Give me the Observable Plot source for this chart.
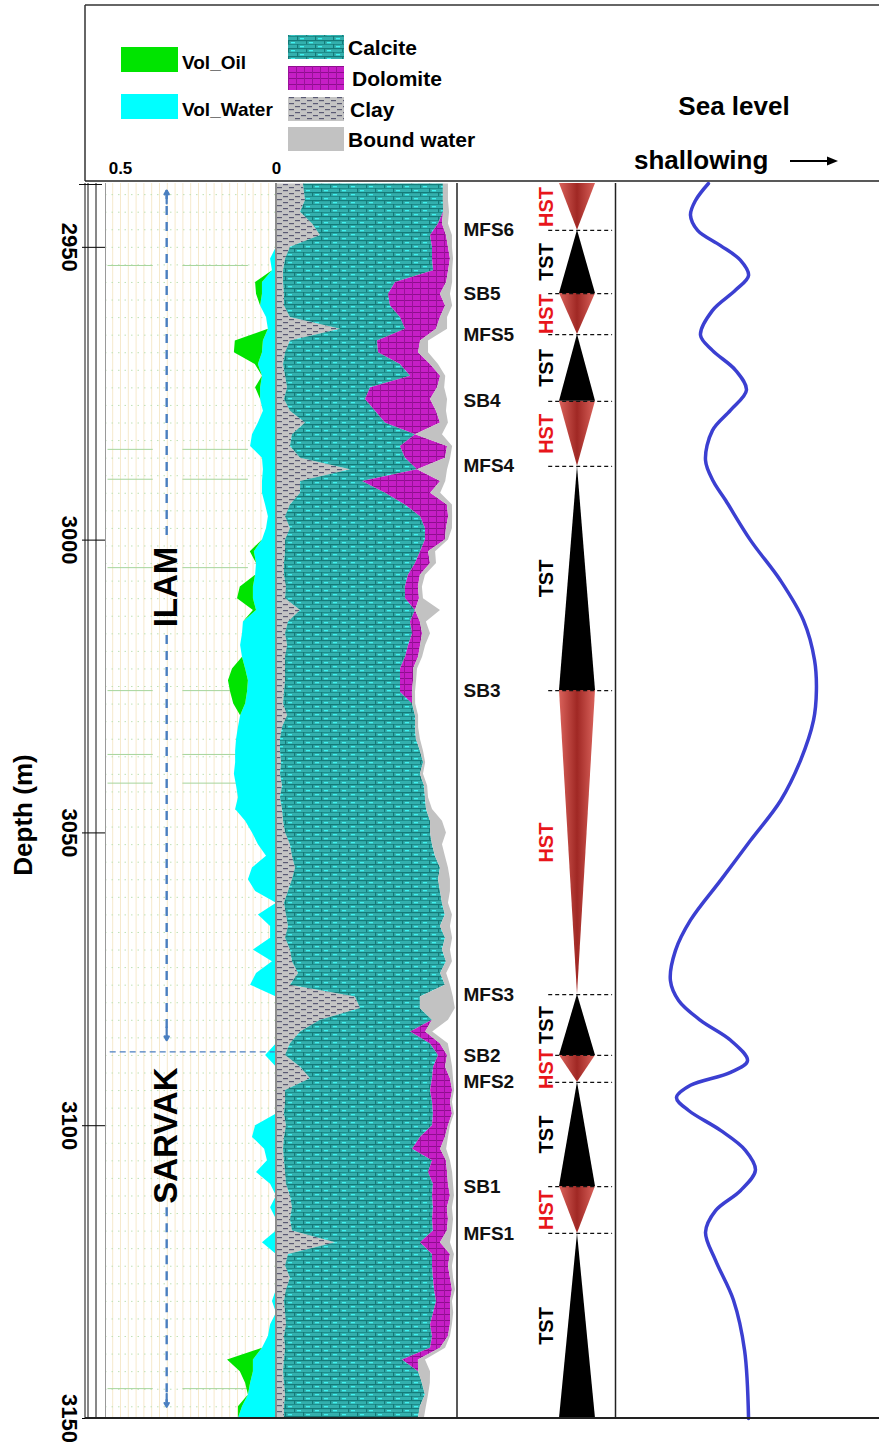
<!DOCTYPE html>
<html><head><meta charset="utf-8">
<script src="https://cdn.jsdelivr.net/npm/d3@7"></script>
<script src="https://cdn.jsdelivr.net/npm/@observablehq/plot@0.6"></script>
<style>
html,body{margin:0;padding:0;background:#fff;overflow:hidden}
#page{position:relative;width:879px;height:1447px;font-family:"Liberation Sans",Arial,sans-serif}
</style></head>
<body>
<svg width="0" height="0" style="position:absolute">
<defs>
<pattern id="calcitePat" patternUnits="userSpaceOnUse" width="18" height="8">
 <rect width="18" height="8" fill="#33b0ae"/>
 <rect y="0" width="18" height="1.2" fill="#147a78"/>
 <rect y="4" width="18" height="1" fill="#1d8c8a"/>
 <rect x="0" y="0" width="1.2" height="4" fill="#147a78"/>
 <rect x="9" y="4" width="1.2" height="4" fill="#147a78"/>
 <rect x="3" y="2" width="4" height="1.3" fill="#3ff2f0"/>
 <rect x="12" y="6" width="4" height="1.3" fill="#3ff2f0"/>
</pattern>
<pattern id="dolomitePat" patternUnits="userSpaceOnUse" width="8" height="6">
 <rect width="8" height="6" fill="#c61ec6"/>
 <rect width="8" height="1" fill="#8e0e8e"/>
 <rect width="1" height="6" fill="#9a129a"/>
</pattern>
<pattern id="clayPat" patternUnits="userSpaceOnUse" width="12" height="6">
 <rect width="12" height="6" fill="#c4c4c4"/>
 <rect x="1" y="1" width="5" height="1.2" fill="#5a5a74"/>
 <rect x="7" y="4" width="5" height="1.2" fill="#5a5a74"/>
</pattern>
<linearGradient id="hstGrad" x1="0" x2="1" y1="0" y2="0">
 <stop offset="0" stop-color="#d9625b"/>
 <stop offset="0.5" stop-color="#a02824"/>
 <stop offset="1" stop-color="#d9625b"/>
</linearGradient>
</defs>
</svg>
<div id="page">
<svg id="hdr" width="879" height="1447" style="position:absolute;left:0;top:0"></svg>
<svg id="fg" width="879" height="1447" style="position:absolute;left:0;top:0;pointer-events:none"></svg>
</div>
<script>
// ---------- DATA ----------
const depth = [2939.2,2942,2944,2946,2948,2950,2952,2954,2956,2958,
2960,2962,2964,2966,2968,2970,2972,2974,2976,2978,
2980,2982,2984,2986,2988,2990,2992,2994,2996,2998,
3000,3002,3004,3006,3008,3010,3012,3014,3016,3018,
3020,3022,3024,3026,3028,3030,3032,3034,3036,3038,
3040,3042,3044,3046,3048,3050,3052,3054,3056,3058,
3060,3062,3064,3066,3068,3070,3072,3074,3076,3078,
3080,3082,3084,3086,3088,3090,3092,3094,3096,3098,
3100,3102,3104,3106,3108,3110,3112,3114,3116,3118,
3120,3122,3124,3126,3128,3130,3132,3134,3136,3138,
3140,3142,3144,3146,3148,3150];

const water = [0,0,0,0,0,0,.019,.013,.045,.045,
.051,.032,.026,.042,.045,.058,.045,.051,.051,.042,
.058,.077,.083,.045,.042,.045,.045,.035,.026,.032,
.045,.071,.064,.067,.074,.074,.064,.106,.109,.115,
.109,.099,.090,.093,.099,.115,.122,.128,.131,.131,
.135,.128,.122,.131,.099,.077,.058,.032,.077,.090,
.067,0,.058,.019,.019,.074,.013,.064,.083,0,
0,0,0,0,.035,0,0,0,0,0,
.067,.077,.038,.029,.064,.019,0,.019,0,0,
.045,0,0,0,0,.013,0,.019,.026,.045,
.074,.074,.083,.090,.109,.122];

const oil = [0,0,0,0,0,0,0,0,.022,.019,
0,0,0,.090,.090,.010,0,.016,0,0,
0,0,0,0,0,0,0,0,0,0,
0,.013,0,0,.042,.051,.010,0,0,0,
0,.042,.064,.054,.038,0,0,0,0,0,
0,0,0,0,0,0,0,0,0,0,
0,0,0,0,0,0,0,0,0,0,
0,0,0,0,0,0,0,0,0,0,
0,0,0,0,0,0,0,0,0,0,
0,0,0,0,0,0,0,0,0,0,
.083,.042,.016,0,.013,0];

const clay = [14.9,16.0,13.3,19.9,24.3,7.7,5.0,3.9,3.9,4.4,
4.4,7.7,35.4,7.7,5.0,3.9,5.0,6.1,4.4,7.7,
16.0,8.8,7.7,13.3,40.9,13.3,13.3,7.7,5.0,7.7,
5.0,5.0,4.4,4.4,5.5,5.0,13.3,6.6,5.0,6.1,
5.0,5.0,5.0,4.4,3.9,6.1,3.3,2.2,2.2,2.8,
2.2,3.3,2.2,3.3,3.9,5.0,7.7,8.8,10.5,8.8,
6.6,4.4,5.5,6.6,5.0,7.7,8.8,12.2,7.7,43.6,
46.4,24.3,13.3,7.7,5.0,13.3,18.8,5.0,5.0,4.4,
5.5,4.4,3.9,4.4,5.0,5.5,7.7,8.8,7.7,8.8,
32.6,6.6,5.0,7.7,5.5,4.4,5.0,5.5,4.4,5.0,
4.4,3.9,4.4,5.0,4.4,4.4];

const calcite = [77.3,76.2,79.0,69.6,60.8,78.5,81.2,82.9,61.9,57.5,
58.6,60.8,35.9,48.1,51.4,64.6,69.1,45.9,44.8,47.0,
44.2,68.0,60.8,58.0,37.0,34.3,47.0,63.5,74.6,74.6,
77.3,74.6,72.4,68.5,65.7,66.3,63.5,67.4,70.2,66.9,
66.3,63.5,63.5,64.1,71.3,70.7,73.5,75.1,77.3,78.5,
77.3,78.5,80.1,79.6,81.2,80.1,78.5,79.0,80.1,80.7,
84.0,87.3,87.8,84.0,88.4,84.0,85.1,78.5,85.6,35.9,
33.1,61.9,60.8,77.3,84.5,73.5,67.4,80.1,81.2,82.3,
80.7,75.1,71.3,81.8,79.0,81.2,78.5,77.9,78.5,77.9,
47.0,79.6,81.2,79.0,81.8,84.0,81.8,79.6,81.8,80.1,
65.2,74.6,76.2,77.3,75.1,74.0];

const dolomite = [0,0,0,2.2,8.8,8.8,9.9,8.3,28.2,28.7,
30.4,22.1,17.1,23.8,22.1,16.6,16.6,37.0,35.9,33.7,
30.4,0,26.0,22.1,0,43.1,24.9,23.2,15.5,11.6,
11.0,4.4,8.3,6.6,7.2,7.7,0,5.5,5.5,6.6,
7.2,7.2,7.2,6.6,0,0,0,0,0,0,
0,0,0,0,0,0,0,0,0,0,
0,0,0,0,0,0,0,0,0,0,
0,0,8.3,5.5,5.0,6.6,9.9,12.2,9.9,10.5,
8.8,13.8,15.5,7.7,10.5,8.3,9.9,7.7,8.8,7.7,
11.0,9.9,8.8,9.4,9.9,7.7,9.4,11.0,8.8,5.5,
8.8,0,0,0,0,0];

const boundWater = [2.8,2.8,3.3,3.3,3.3,2.2,1.7,2.2,3.3,5.5,
3.9,3.9,6.1,4.4,5.5,4.4,2.8,3.9,9.4,5.5,
4.4,14.9,2.8,2.8,16.6,2.8,5.5,2.8,2.2,3.3,
1.7,3.9,3.3,2.8,2.2,2.2,13.8,3.3,4.4,2.8,
2.2,2.2,1.7,1.7,1.7,1.7,1.7,2.2,1.7,1.1,
1.7,1.7,1.7,3.3,6.6,8.8,5.5,5.5,4.4,6.6,
5.5,3.3,3.9,5.5,3.9,4.4,3.3,3.3,2.8,18.2,
19.3,8.8,3.9,4.4,1.7,3.9,1.7,1.1,1.1,1.1,
1.1,1.7,3.3,2.2,2.8,2.8,2.2,2.8,2.8,2.8,
5.5,2.2,2.2,1.7,1.7,1.1,1.7,1.1,1.1,2.8,
3.9,6.6,4.4,1.7,3.3,3.3];

const surfaceNames = ["MFS6","SB5","MFS5","SB4","MFS4","SB3","MFS3","SB2","MFS2","SB1","MFS1"];
const surfaceDepths = [2947.1,2957.9,2964.9,2976.3,2987.4,3025.7,3077.6,3088.0,3092.6,3110.4,3118.4];
const tractTypes = ["HST","TST","HST","TST","HST","TST","HST","TST","HST","TST","HST","TST"];

const seaDepth = [2939.1,2942.0,2944.5,2947.1,2949.7,2952.2,2954.8,2957.3,2960.8,2965.0,2967.6,2971.0,2974.4,2977.8,2981.3,2986.4,2990.0,2993.2,3000.0,3006.9,3013.7,3020.5,3025.7,3030.8,3037.6,3044.5,3051.3,3058.1,3064.9,3070.1,3075.2,3078.6,3082.0,3085.4,3088.9,3090.9,3093.1,3095.2,3097.4,3100.8,3104.2,3107.6,3111.1,3114.5,3118.2,3123.0,3129.8,3138.4,3150.0];
const seaLevel = [35.2,30.3,28.4,31.1,39.8,47.3,50.4,45.5,36.7,32.2,36.7,45.5,49.6,43.6,36.7,34.1,37.1,41.7,51.1,62.5,71.2,75.4,76.1,75.0,70.1,62.5,51.1,39.8,28.4,22.7,20.8,23.9,32.2,43.6,50.0,43.6,28.4,23.1,27.7,39.8,49.2,53.0,47.3,37.9,34.1,37.9,44.7,48.9,50.4];

const formationNames = ["ILAM","SARVAK"];
const formationTops = [2939.1,3087.4];
const formationBases = [3087.4,3150];
const formationLabelDepths = [3008,3101.7];

const markerDepths = [2953.1,2984.5,2989.6,3004.7,3025.7,3036.6,3041.5,3144.9];
const depthTicks = [2950,3000,3050,3100,3150];
const fluidTicks = [0.5,0];
const fluidGrid = [0.525,0.5,0.475,0.45,0.425,0.4,0.375,0.35,0.325,0.3,0.275,0.25,0.225,0.2,0.175,0.15,0.125,0.1,0.075,0.05,0.025];

const fluidStack = ["Vol_Water","Vol_Oil"];
const fluidColors = ["#00ffff","#00e400"];
const fluidLegend = ["Vol_Oil","Vol_Water"];
const mineralStack = ["Clay","Calcite","Dolomite","Bound water"];
const mineralFills = ["url(#clayPat)","url(#calcitePat)","url(#dolomitePat)","#c2c2c2"];
const mineralLegend = ["Calcite","Dolomite","Clay","Bound water"];

// ---------- LAYOUT ----------
const H = 1447, TOP = 183, BOT = 1418;
const FONT = "Liberation Sans, Arial, sans-serif";
const yOpt = {domain: [2939.1, 3150], range: [TOP, BOT]};
const page = document.getElementById("page");
const fg = document.getElementById("fg");
function place(svg, left) {
  svg.style.position = "absolute"; svg.style.left = left + "px"; svg.style.top = "0px";
  svg.style.background = "transparent"; svg.style.overflow = "visible"; svg.style.maxWidth = "none";
  page.insertBefore(svg, fg);
}
const st = {fontFamily: FONT, background: "transparent", overflow: "visible"};

// fluids
const fluidLong = depth.flatMap((d, i) => [
  {depth: d, fluid: "Vol_Water", v: water[i]},
  {depth: d, fluid: "Vol_Oil", v: oil[i]}
]);
const formations = formationNames.map((n, i) => ({name: n, top: formationTops[i], base: formationBases[i], label: formationLabelDepths[i], gap: n.length * 2 + 0.3}));
const segs = [], heads = [];
formations.forEach(f => {
  const tipUp = f.top + 1.2, tipDown = f.base - 2.0;
  if (f.label - f.gap - tipUp > 4) { segs.push({y1: tipUp, y2: f.label - f.gap}); heads.push({from: tipUp + 2.2, to: tipUp}); }
  segs.push({y1: f.label + f.gap, y2: tipDown}); heads.push({from: tipDown - 2.2, to: tipDown});
});
const AX = 0.352, BLUE = "#4a7fc1";
const hGrid = d3.range(2941, 3150, 3);

place(Plot.plot({
  width: 276, height: H, marginLeft: 105, marginRight: 0, marginTop: TOP, marginBottom: H - BOT,
  x: {domain: [0.5 + 15/312, 0]},
  y: yOpt,
  color: {domain: fluidStack, range: fluidColors},
  style: st,
  marks: [
    Plot.ruleX(fluidGrid, {stroke: "#f6e9cc", strokeWidth: 1}),
    Plot.ruleY(hGrid, {stroke: "#bfe0b5", strokeDasharray: "1.5,5"}),
    Plot.ruleY(markerDepths, {x1: 0.54, x2: 0.395, stroke: "#a6d59c"}),
    Plot.ruleY(markerDepths, {x1: 0.30, x2: 0.09, stroke: "#a6d59c"}),
    Plot.areaX(fluidLong, Plot.stackX({x: "v", y: "depth", z: "fluid", fill: "fluid"})),
    Plot.ruleY([formationTops[1]], {x1: 0.533, x2: 0.004, stroke: BLUE, strokeWidth: 1.4, strokeDasharray: "6,4"}),
    Plot.ruleX(segs, {x: AX, y1: "y1", y2: "y2", stroke: BLUE, strokeWidth: 2.4, strokeDasharray: "9,7"}),
    Plot.arrow(heads, {x1: AX, x2: AX, y1: "from", y2: "to", stroke: BLUE, strokeWidth: 2.2, headLength: 12}),
    Plot.text(formations, {x: AX, y: "label", text: "name", rotate: -90, fontSize: 33, fontWeight: "bold", fill: "#000"}),
    Plot.axisY({ticks: depthTicks, tickSize: 23, tickPadding: 5, tickRotate: 90, fontSize: 22, fontWeight: "bold", label: null, tickFormat: d => String(d)}),
    Plot.text(["Depth (m)"], {frameAnchor: "left", textAnchor: "middle", dx: -82, dy: 14, rotate: -90, fontSize: 26, fontWeight: "bold"}),
    Plot.axisX({anchor: "top", ticks: fluidTicks, tickSize: 0, tickPadding: 10, fontSize: 17, fontWeight: "bold", label: null, tickFormat: d => String(d)})
  ]
}), 0);

// minerals
const minCols = {Clay: clay, Calcite: calcite, Dolomite: dolomite, "Bound water": boundWater};
const mineralLong = depth.flatMap((d, i) => mineralStack.map(m => ({depth: d, mineral: m, v: minCols[m][i]})));
place(Plot.plot({
  width: 181, height: H, marginLeft: 0, marginRight: 0, marginTop: TOP, marginBottom: H - BOT,
  x: {domain: [0, 100], axis: null},
  y: {...yOpt, axis: null},
  color: {domain: mineralStack, range: mineralFills},
  style: st,
  marks: [
    Plot.areaX(mineralLong, Plot.stackX({x: "v", y: "depth", z: "mineral", fill: "mineral"}))
  ]
}), 276);

// sequence stratigraphy
const bounds = [yOpt.domain[0], ...surfaceDepths, yOpt.domain[1]];
const tracts = tractTypes.map((t, i) => ({type: t, top: bounds[i], base: bounds[i + 1], mid: (bounds[i] + bounds[i + 1]) / 2}));
const triPts = tracts.flatMap((tr, i) => tr.type === "TST"
  ? [{id: i, type: "TST", depth: tr.top, lo: 0, hi: 0}, {id: i, type: "TST", depth: tr.base, lo: -1, hi: 1}]
  : [{id: i, type: "HST", depth: tr.top, lo: -1, hi: 1}, {id: i, type: "HST", depth: tr.base, lo: 0, hi: 0}]);
const surfaces = surfaceNames.map((n, i) => ({name: n, depth: surfaceDepths[i]}));
place(Plot.plot({
  width: 158, height: H, marginLeft: 102, marginRight: 20, marginTop: TOP, marginBottom: H - BOT,
  x: {domain: [-1, 1], axis: null},
  y: {...yOpt, axis: null},
  style: st,
  marks: [
    Plot.areaX(triPts.filter(d => d.type === "HST"), {y: "depth", x1: "lo", x2: "hi", z: "id", fill: "url(#hstGrad)"}),
    Plot.areaX(triPts.filter(d => d.type === "TST"), {y: "depth", x1: "lo", x2: "hi", z: "id", fill: "#000"}),
    Plot.ruleY(surfaceDepths, {x1: -1.6, x2: 1.95, stroke: "#111", strokeWidth: 1.2, strokeDasharray: "4,3"}),
    Plot.text(surfaces, {y: "depth", text: "name", frameAnchor: "left", dx: -96, textAnchor: "start", fontSize: 19, fontWeight: "bold", fill: "#111"}),
    Plot.text(tracts, {y: "mid", text: "type", frameAnchor: "left", textAnchor: "middle", dx: -13, rotate: -90, fontSize: 20, fontWeight: "bold", fill: d => d.type === "HST" ? "#e8151b" : "#000"})
  ]
}), 457);

// sea level
const seaRows = seaDepth.map((d, i) => ({depth: d, v: seaLevel[i]}));
place(Plot.plot({
  width: 264, height: H, marginLeft: 0, marginRight: 0, marginTop: TOP, marginBottom: H - BOT,
  x: {domain: [0, 100], axis: null},
  y: {...yOpt, axis: null},
  style: st,
  marks: [
    Plot.line(seaRows, {x: "v", y: "depth", stroke: "#3b3fd1", strokeWidth: 3.5, curve: "catmull-rom"})
  ]
}), 615);

// ---------- HEADER / LEGEND ----------
const hdr = d3.select("#hdr").append("g").attr("font-family", FONT).attr("font-weight", "bold").attr("fill", "#000");
const fluidSwY = [47, 94];
fluidLegend.forEach((n, i) => {
  hdr.append("rect").attr("x", 121).attr("y", fluidSwY[i]).attr("width", 57).attr("height", 25)
    .attr("fill", fluidColors[fluidStack.indexOf(n)]);
  hdr.append("text").attr("x", 182).attr("y", fluidSwY[i] + 15).attr("dominant-baseline", "central")
    .attr("font-size", 19).text(n);
});
const minSwY = [35, 66, 97, 127];
const minTxtX = [348, 352, 350, 348];
mineralLegend.forEach((n, i) => {
  hdr.append("rect").attr("x", 288).attr("y", minSwY[i]).attr("width", 56).attr("height", 24)
    .attr("fill", mineralFills[mineralStack.indexOf(n)]);
  hdr.append("text").attr("x", minTxtX[i]).attr("y", minSwY[i] + 12).attr("dominant-baseline", "central")
    .attr("font-size", 21).text(n);
});
hdr.append("text").attr("x", 734).attr("y", 106).attr("text-anchor", "middle").attr("dominant-baseline", "central").attr("font-size", 26).text("Sea level");
hdr.append("text").attr("x", 634).attr("y", 160).attr("dominant-baseline", "central").attr("font-size", 26).text("shallowing");
hdr.append("line").attr("x1", 790).attr("x2", 830).attr("y1", 161).attr("y2", 161).attr("stroke", "#000").attr("stroke-width", 2);
hdr.append("path").attr("d", "M838,161 L827,156.5 L827,165.5 Z").attr("fill", "#000");

// ---------- FRAME LINES ----------
const F = d3.select(fg);
function ln(x1, y1, x2, y2, c, w) { F.append("line").attr("x1", x1).attr("y1", y1).attr("x2", x2).attr("y2", y2).attr("stroke", c).attr("stroke-width", w); }
ln(85, 5, 879, 5, "#333", 1.5);
ln(85, 5, 85, 181, "#333", 1.5);
ln(85, 181, 879, 181, "#222", 1.5);
ln(85, 183, 85, 1418, "#111", 1);
ln(88, 183, 88, 1418, "#111", 1);
ln(96, 183, 96, 1418, "#111", 1);
ln(79, 184.5, 102, 184.5, "#111", 1);
ln(105.5, 183, 105.5, 1418, "#9a9a9a", 1);
ln(276, 183, 276, 1418, "#8c8c8c", 2);
ln(457, 183, 457, 1418, "#222", 1.5);
ln(615.5, 183, 615.5, 1418, "#222", 1.5);
ln(85, 1418, 879, 1418, "#222", 2);
</script>
</body></html>
